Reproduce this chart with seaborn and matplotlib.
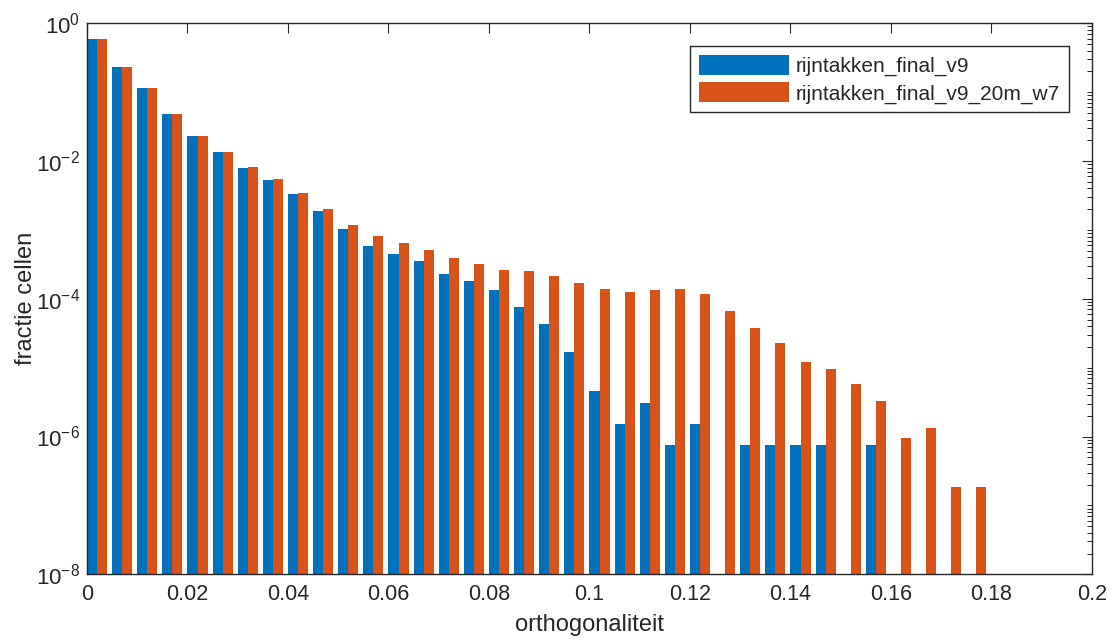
import numpy as np
import pandas as pd
import matplotlib
matplotlib.use("Agg")
import matplotlib.pyplot as plt
from matplotlib.ticker import LogLocator, NullFormatter, NullLocator
import seaborn as sns

# ---------------- data ----------------
bin_centers = [0.002, 0.007, 0.012, 0.017, 0.022, 0.027, 0.032, 0.037, 0.042,
               0.047, 0.052, 0.057, 0.062, 0.067, 0.072, 0.077, 0.082, 0.087,
               0.092, 0.097, 0.102, 0.107, 0.112, 0.117, 0.122, 0.127, 0.132,
               0.137, 0.142, 0.147, 0.152, 0.157, 0.162, 0.167, 0.172, 0.177]

series_names = ["rijntakken_final_v9", "rijntakken_final_v9_20m_w7"]

frac_v9 = [0.59, 0.233, 0.115, 0.0485, 0.0232, 0.0135, 0.0079, 0.00534, 0.00334,
           0.0019, 0.00102, 0.00058, 4.44e-4, 3.51e-4, 2.32e-4, 1.83e-4, 1.32e-4,
           7.57e-5, 4.24e-5, 1.71e-5, 4.62e-6, 1.53e-6, 3.09e-6, 7.6e-7, 1.53e-6,
           np.nan, 7.6e-7, 7.6e-7, 7.6e-7, 7.6e-7, np.nan, 7.6e-7, np.nan, np.nan,
           np.nan, np.nan]

frac_v9_20m_w7 = [0.59, 0.233, 0.115, 0.0485, 0.0232, 0.0135, 0.00826, 0.00546,
                  0.00341, 0.00204, 0.00119, 0.000804, 6.42e-4, 5.18e-4, 3.92e-4,
                  3.17e-4, 2.65e-4, 2.53e-4, 2.12e-4, 1.71e-4, 1.37e-4, 1.24e-4,
                  1.34e-4, 1.37e-4, 1.18e-4, 6.68e-5, 3.78e-5, 2.31e-5, 1.21e-5,
                  9.67e-6, 5.71e-6, 3.26e-6, 9.5e-7, 1.33e-6, 1.84e-7, 1.84e-7]

xtick_values = [0, 0.02, 0.04, 0.06, 0.08, 0.1, 0.12, 0.14, 0.16, 0.18, 0.2]
xtick_labels = ["0", "0.02", "0.04", "0.06", "0.08", "0.1", "0.12", "0.14",
                "0.16", "0.18", "0.2"]
ytick_values = [1e-8, 1e-6, 1e-4, 1e-2, 1e0]
ytick_labels = [r"$\mathdefault{10^{-8}}$", r"$\mathdefault{10^{-6}}$",
                r"$\mathdefault{10^{-4}}$", r"$\mathdefault{10^{-2}}$",
                r"$\mathdefault{10^{0}}$"]

colors = ["#0072BD", "#D95319"]
dark = "#262626"

# ---------------- style ----------------
sns.set_theme(style="white")
plt.rcParams["font.family"] = ["Liberation Sans", "DejaVu Sans"]
plt.rcParams["mathtext.fontset"] = "custom"
plt.rcParams["mathtext.rm"] = "Liberation Sans"
plt.rcParams["mathtext.it"] = "Liberation Sans:italic"
plt.rcParams["mathtext.bf"] = "Liberation Sans:bold"
plt.rcParams["text.color"] = dark
plt.rcParams["axes.labelcolor"] = dark
plt.rcParams["xtick.color"] = dark
plt.rcParams["ytick.color"] = dark

df = pd.concat([
    pd.DataFrame({"x": bin_centers, "frac": frac_v9, "serie": series_names[0]}),
    pd.DataFrame({"x": bin_centers, "frac": frac_v9_20m_w7, "serie": series_names[1]}),
]).dropna()

fig = plt.figure(figsize=(11.12, 6.42), dpi=100)
ax = fig.add_axes([0.0782, 0.1055, 0.982 - 0.0782, 0.9637 - 0.1055])

sns.barplot(data=df, x="x", y="frac", hue="serie", hue_order=series_names,
            palette=colors, native_scale=True,
            errorbar=None, saturation=1, linewidth=0, ax=ax)

ax.set_yscale("log")
ax.set_xlim(0, 0.2)
ax.set_ylim(1e-8, 1)
ax.set_xticks(xtick_values)
ax.set_xticklabels(xtick_labels)
ax.xaxis.set_minor_locator(NullLocator())
ax.set_yticks(ytick_values)
ax.set_yticklabels(ytick_labels)
ax.yaxis.set_minor_locator(LogLocator(base=10, subs=np.arange(1, 10), numticks=100))
ax.yaxis.set_minor_formatter(NullFormatter())

ax.tick_params(axis="both", which="both", direction="in", top=True, right=True,
               color=dark)
ax.tick_params(axis="both", which="major", length=7.2, width=0.8, labelsize=15.5)
ax.tick_params(axis="x", which="major", pad=7)
ax.tick_params(axis="y", which="major", pad=5, labelsize=16)
ax.tick_params(axis="y", which="minor", length=3.6, width=0.7)

for sp in ax.spines.values():
    sp.set_visible(True)
    sp.set_color(dark)
    sp.set_linewidth(1.0)

ax.set_xlabel("orthogonaliteit", fontsize=17, color=dark)
ax.set_ylabel("fractie cellen", fontsize=17, color=dark)
ax.xaxis.set_label_coords(0.5, -0.072)
ax.yaxis.set_label_coords(-0.05, 0.5)

h, l = ax.get_legend_handles_labels()
if ax.get_legend() is not None:
    ax.get_legend().remove()
leg = ax.legend(h, l, loc="upper right", bbox_to_anchor=(0.977, 0.959),
                borderaxespad=0, frameon=True, fancybox=False, framealpha=1,
                edgecolor=dark, fontsize=15, handlelength=4.3, handleheight=1.1,
                handletextpad=0.35, labelspacing=0.3, borderpad=0.42)
leg.get_frame().set_linewidth(1.0)

fig.savefig("out.png", dpi=100)
